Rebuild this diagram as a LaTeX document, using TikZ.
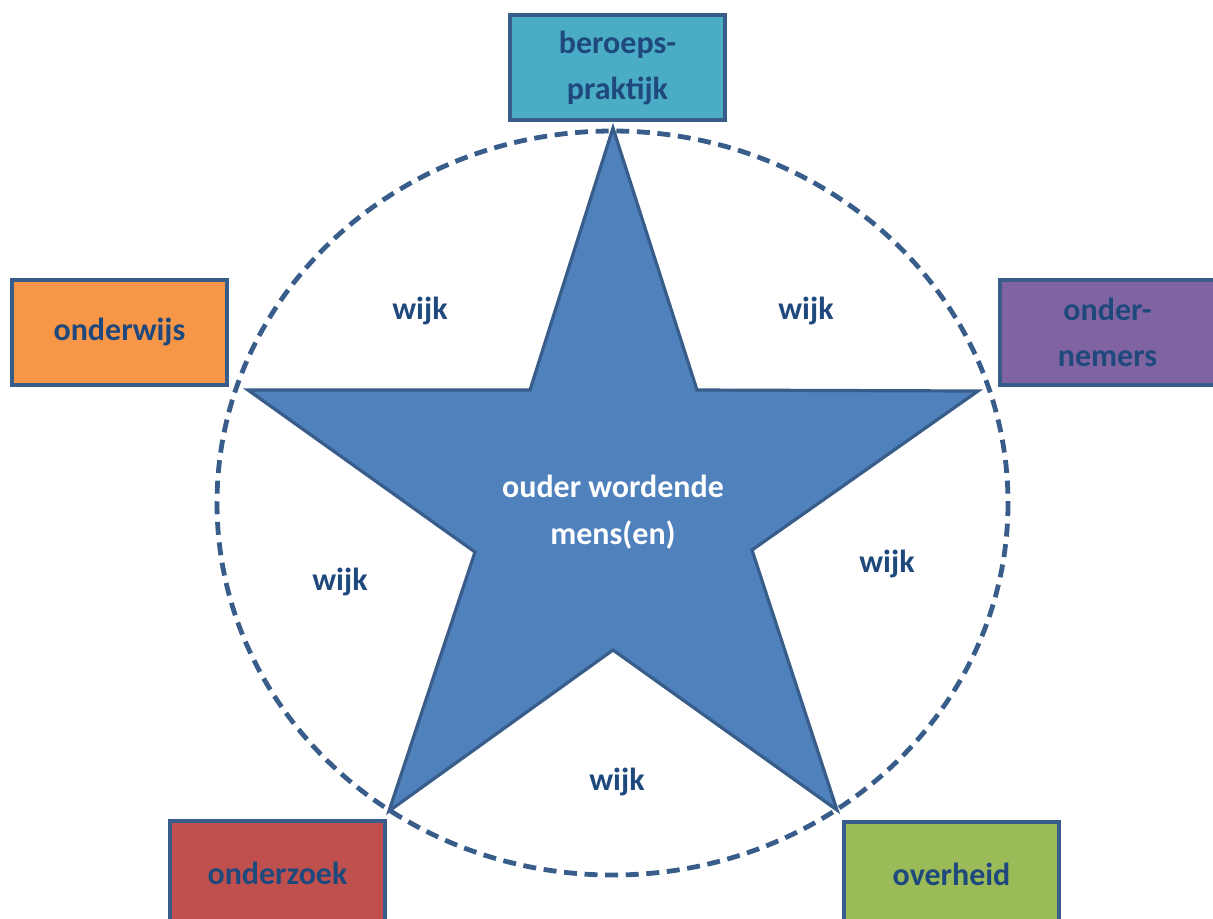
\documentclass[tikz,border=0pt]{standalone}
\usepackage{fontspec}
\setmainfont{Carlito}
\definecolor{edge}{HTML}{385D8A}
\definecolor{txt}{HTML}{1F497D}
\definecolor{starfill}{HTML}{4F81BD}
\definecolor{teal}{HTML}{4BACC6}
\definecolor{orng}{HTML}{F79646}
\definecolor{purp}{HTML}{8064A2}
\definecolor{redd}{HTML}{C0504D}
\definecolor{grn}{HTML}{9BBB59}
\tikzset{
  boxnode/.style={draw=edge, line width=2pt, minimum width=107.5pt, minimum height=52.5pt,
    inner sep=0pt, align=center, text=txt, font=\fontsize{16}{23}\selectfont\bfseries},
  wijklabel/.style={text=txt, font=\fontsize{16}{23}\selectfont\bfseries, inner sep=0pt},
}
\begin{document}
\begin{tikzpicture}[x=0.5pt,y=-0.5pt]
\useasboundingbox (0,0) rectangle (1213,918);
\clip (0,0) rectangle (1213,918);
% dashed ellipse
\draw[edge, line width=2.4pt, dash pattern=on 6.5pt off 3.8pt] (612.5,503) ellipse [x radius=395.5, y radius=372];
% star
\coordinate (p1) at (613,128);
\coordinate (i1) at (697,390);
\coordinate (p2) at (978,391);
\coordinate (i2) at (752,550);
\coordinate (p3) at (837,810);
\coordinate (i3) at (613,650);
\coordinate (p4) at (389,811);
\coordinate (i4) at (475,552);
\coordinate (p5) at (248,390);
\coordinate (i5) at (530,390);
\draw[fill=starfill, draw=edge, line width=1.6pt, line join=miter]
  (p1) -- (i1) -- (p2) -- (i2) -- (p3) -- (i3) -- (p4) -- (i4) -- (p5) -- (i5) -- cycle;
\node[text=white, font=\fontsize{16}{23.5}\selectfont\bfseries, align=center] (center) at (613,512) {ouder wordende\\mens(en)};
% wijk labels
\node[wijklabel] (w1) at (420,311) {wijk};
\node[wijklabel] (w2) at (806,311) {wijk};
\node[wijklabel] (w3) at (340,582) {wijk};
\node[wijklabel] (w4) at (887,564) {wijk};
\node[wijklabel] (w5) at (617,782) {wijk};
% boxes
\node[boxnode, fill=teal] (beroeps) at (617.5,67.5) {beroeps-\\praktijk};
\node[boxnode, fill=orng] (onderwijs) at (119.5,332) {onderwijs};
\node[boxnode, fill=purp] (ondernemers) at (1107.5,332) {onder-\\nemers};
\node[boxnode, fill=redd] (onderzoek) at (277.5,873.5) {onderzoek};
\node[boxnode, fill=grn] (overheid) at (951.5,874.5) {overheid};
\end{tikzpicture}
\end{document}
